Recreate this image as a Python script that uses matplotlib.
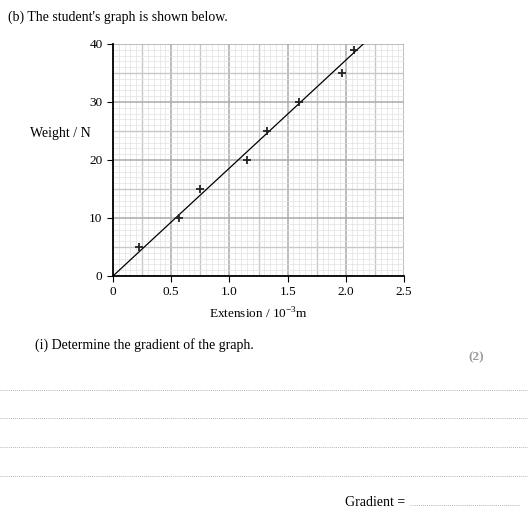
import matplotlib.pyplot as plt
import numpy as np

plt.rcParams['font.family'] = 'Liberation Serif'
plt.rcParams['mathtext.fontset'] = 'custom'
plt.rcParams['mathtext.rm'] = 'Liberation Serif'

extension = [0.22, 0.57, 0.75, 1.15, 1.32, 1.60, 1.97, 2.07]
weight = [5, 10, 15, 20, 25, 30, 35, 39]
line_x = [0, 2.15]
line_y = [0, 40]

fig = plt.figure(figsize=(5.28, 5.21), dpi=100)
ax = fig.add_axes([113/528, 1-276/521, 291/528, 232/521])

# graph paper grid
for x in np.arange(0, 2.5001, 0.05):
    k = round(x / 0.05)
    if k % 10 == 0:
        c, lw = '#b0b0b0', 1.2
    elif k % 5 == 0:
        c, lw = '#c8c8c8', 1.0
    else:
        c, lw = '#e2e2e2', 0.5
    ax.axvline(x, color=c, lw=lw, zorder=0)
for y in np.arange(0, 41, 1):
    if y % 10 == 0:
        c, lw = '#b0b0b0', 1.2
    elif y % 5 == 0:
        c, lw = '#c8c8c8', 1.0
    else:
        c, lw = '#e2e2e2', 0.5
    ax.axhline(y, color=c, lw=lw, zorder=0)

ax.plot(line_x, line_y, color='black', lw=0.9, zorder=2)
ax.plot(extension, weight, '+', color='#222222', ms=6, mew=1.3, zorder=3)

ax.set_xlim(0, 2.5)
ax.set_ylim(0, 40)
ax.set_xticks([0, 0.5, 1.0, 1.5, 2.0, 2.5])
ax.set_xticklabels(['0', '0.5', '1.0', '1.5', '2.0', '2.5'])
ax.set_yticks([0, 10, 20, 30, 40])
for s in ['top', 'right']:
    ax.spines[s].set_visible(False)
ax.spines['left'].set_linewidth(1.3)
ax.spines['bottom'].set_linewidth(1.3)
ax.tick_params(labelsize=9.5, length=4)
ax.set_xlabel(r'Extension / 10$^{\mathrm{-3}}$m', fontsize=9.5, labelpad=6)

fig.text(8/528, 1-17/521, "(b) The student's graph is shown below.", fontsize=10, va='center')
fig.text(30/528, 1-133/521, 'Weight / N', fontsize=10, va='center')
fig.text(35/528, 1-345/521, '(i) Determine the gradient of the graph.', fontsize=10, va='center')
fig.text(468/528, 1-357/521, '(2)', fontsize=9.5, va='center', color='#999999', fontweight='bold')

for yy in [390, 418, 447, 476]:
    fig.add_artist(plt.Line2D([0, 1], [1-yy/521]*2, color='#999999', lw=0.6, ls=(0, (1, 1.5))))
fig.text(345/528, 1-502/521, 'Gradient =', fontsize=10, va='center')
fig.add_artist(plt.Line2D([410/528, 520/528], [1-505/521]*2, color='#999999', lw=0.6, ls=(0, (1, 1.5))))

fig.savefig('out.png', dpi=100)
